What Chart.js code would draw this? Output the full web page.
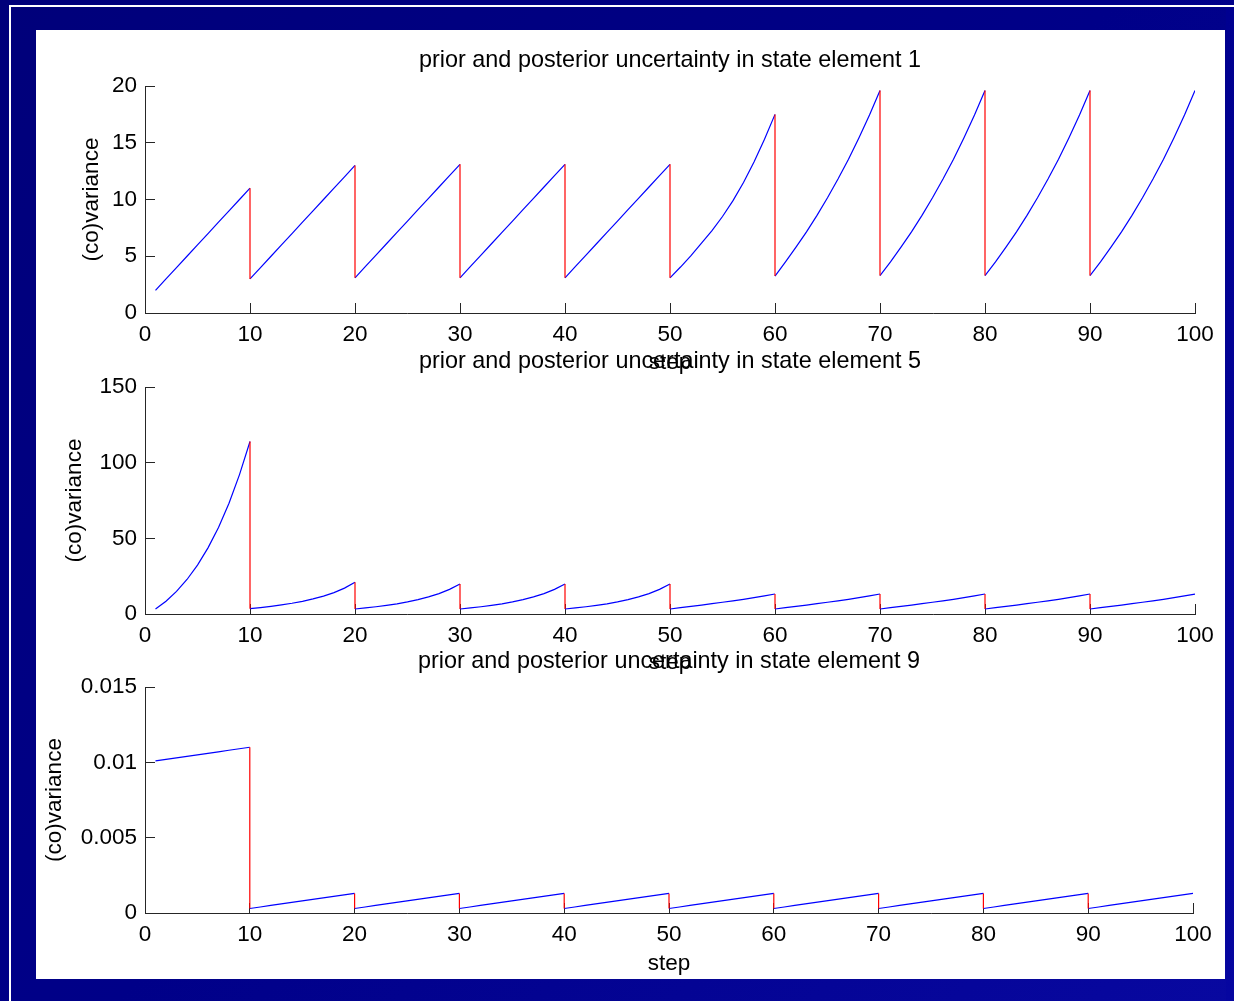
<!DOCTYPE html>
<html>
<head>
<meta charset="utf-8">
<title>prior and posterior uncertainty</title>
<script src="https://cdn.jsdelivr.net/npm/chart.js@4.4.1/dist/chart.umd.min.js"></script>
<style>
  html, body { margin: 0; padding: 0; overflow: hidden; }
  html { background: #00007a; }
  body { width: 1234px; height: 1001px; position: relative; }
  #bg { position: absolute; left: 0; top: 0; width: 1234px; height: 1001px;
        background: linear-gradient(135deg, #00007a 0%, #000088 50%, #0808a0 100%); }
  #lineTop { position: absolute; left: 9px; top: 5px; width: 1225px; height: 2px; background: #fff; }
  #lineLeft { position: absolute; left: 9px; top: 5px; width: 2px; height: 996px; background: #fff; }
  #panel { position: absolute; left: 36px; top: 30px; width: 1189px; height: 949px; background: #fff; }
  #edge { position: absolute; left: 1226px; top: 8px; width: 8px; height: 993px; z-index: 5;
          background: linear-gradient(180deg, #000090, #0606a0); }
  canvas { position: absolute; left: 0; top: 0; width: 1234px; height: 1001px; }
</style>
</head>
<body>
<div id="bg"></div>
<div id="lineTop"></div>
<div id="lineLeft"></div>
<div id="panel"></div>
<canvas id="c1" width="1234" height="1001"></canvas>
<canvas id="c2" width="1234" height="1001"></canvas>
<canvas id="c3" width="1234" height="1001"></canvas>
<div id="edge"></div>
<script>
// filter steps 1..100, measurement update every 10 steps
const steps = Array.from({ length: 100 }, (_, i) => i + 1);
const updateSteps = [10, 20, 30, 40, 50, 60, 70, 80, 90];

// state element 1: prior covariance at each step, posterior after each update
const prior1 = [
  2, 3, 4, 5, 6, 7, 8, 9, 10, 11,
  4, 5, 6, 7, 8, 9, 10, 11, 12, 13,
  4.1, 5.1, 6.1, 7.1, 8.1, 9.1, 10.1, 11.1, 12.1, 13.1,
  4.1, 5.1, 6.1, 7.1, 8.1, 9.1, 10.1, 11.1, 12.1, 13.1,
  4.1, 5.1, 6.1, 7.1, 8.1, 9.1, 10.1, 11.1, 12.1, 13.1,
  4.05, 5.05, 6.15, 7.25, 8.5, 9.9, 11.5, 13.3, 15.3, 17.5,
  4.5, 5.8, 7.15, 8.6, 10.15, 11.8, 13.55, 15.45, 17.45, 19.6,
  4.5, 5.8, 7.15, 8.6, 10.15, 11.8, 13.55, 15.45, 17.45, 19.6,
  4.5, 5.8, 7.15, 8.6, 10.15, 11.8, 13.55, 15.45, 17.45, 19.6,
  4.5, 5.8, 7.15, 8.6, 10.15, 11.8, 13.55, 15.45, 17.45, 19.6
];
const post1 = [3.0, 3.1, 3.1, 3.1, 3.1, 3.25, 3.3, 3.3, 3.3];

// state element 5
const prior5 = [
  3.3, 8.4, 14.9, 22.8, 32.3, 43.7, 57.2, 73.2, 92.1, 114,
  4.2, 5.05, 6.0, 7.1, 8.4, 9.95, 11.85, 14.15, 17.1, 21.0,
  4.0, 4.8, 5.7, 6.75, 8.0, 9.5, 11.3, 13.5, 16.3, 19.8,
  4.0, 4.8, 5.7, 6.75, 8.0, 9.5, 11.3, 13.5, 16.3, 19.8,
  4.0, 4.8, 5.7, 6.75, 8.0, 9.5, 11.3, 13.5, 16.3, 19.8,
  4.15, 5.0, 5.9, 6.8, 7.75, 8.7, 9.7, 10.8, 11.95, 13.2,
  4.15, 5.0, 5.9, 6.8, 7.75, 8.7, 9.7, 10.8, 11.95, 13.2,
  4.15, 5.0, 5.9, 6.8, 7.75, 8.7, 9.7, 10.8, 11.95, 13.2,
  4.15, 5.0, 5.9, 6.8, 7.75, 8.7, 9.7, 10.8, 11.95, 13.2,
  4.15, 5.0, 5.9, 6.8, 7.75, 8.7, 9.7, 10.8, 11.95, 13.2
];
const post5 = [3.5, 3.3, 3.3, 3.3, 3.3, 3.3, 3.3, 3.3, 3.3];

// state element 9
const prior9 = [
  0.0101, 0.0102, 0.0103, 0.0104, 0.0105, 0.0106, 0.0107, 0.0108, 0.0109, 0.0110,
  0.0004, 0.0005, 0.0006, 0.0007, 0.0008, 0.0009, 0.0010, 0.0011, 0.0012, 0.0013,
  0.0004, 0.0005, 0.0006, 0.0007, 0.0008, 0.0009, 0.0010, 0.0011, 0.0012, 0.0013,
  0.0004, 0.0005, 0.0006, 0.0007, 0.0008, 0.0009, 0.0010, 0.0011, 0.0012, 0.0013,
  0.0004, 0.0005, 0.0006, 0.0007, 0.0008, 0.0009, 0.0010, 0.0011, 0.0012, 0.0013,
  0.0004, 0.0005, 0.0006, 0.0007, 0.0008, 0.0009, 0.0010, 0.0011, 0.0012, 0.0013,
  0.0004, 0.0005, 0.0006, 0.0007, 0.0008, 0.0009, 0.0010, 0.0011, 0.0012, 0.0013,
  0.0004, 0.0005, 0.0006, 0.0007, 0.0008, 0.0009, 0.0010, 0.0011, 0.0012, 0.0013,
  0.0004, 0.0005, 0.0006, 0.0007, 0.0008, 0.0009, 0.0010, 0.0011, 0.0012, 0.0013,
  0.0004, 0.0005, 0.0006, 0.0007, 0.0008, 0.0009, 0.0010, 0.0011, 0.0012, 0.0013
];
const post9 = [0.0003, 0.0003, 0.0003, 0.0003, 0.0003, 0.0003, 0.0003, 0.0003, 0.0003];

const xTicks = [0, 10, 20, 30, 40, 50, 60, 70, 80, 90, 100];
const yTicks1 = ['0', '5', '10', '15', '20'];
const yTicks5 = ['0', '50', '100', '150'];
const yTicks9 = ['0', '0.005', '0.01', '0.015'];

Chart.defaults.font.family = '"Liberation Sans", Arial, sans-serif';
Chart.defaults.color = '#000';

const font = { size: 22.5 };
const axisColor = '#262626';

// blue: the covariance as it evolves, broken at each update
function blueLine(prior, post) {
  const pts = [];
  steps.forEach((s, i) => {
    pts.push({ x: s, y: prior[i] });
    const k = updateSteps.indexOf(s);
    if (k >= 0) {
      pts.push({ x: s, y: null });
      pts.push({ x: s, y: post[k] });
    }
  });
  return pts;
}

// red: the drop from prior to posterior at each update
function redLines(prior, post) {
  const pts = [];
  updateSteps.forEach((s, k) => {
    pts.push({ x: s, y: prior[s - 1] }, { x: s, y: post[k] }, { x: s, y: null });
  });
  return pts;
}

function makeChart(id, opts) {
  const ctx = document.getElementById(id).getContext('2d');
  return new Chart(ctx, {
    type: 'line',
    data: {
      datasets: [
        { data: redLines(opts.prior, opts.post), borderColor: '#ff0000', borderWidth: 1.2 },
        { data: blueLine(opts.prior, opts.post), borderColor: '#0000ff', borderWidth: 1.2 }
      ]
    },
    options: {
      responsive: false,
      animation: false,
      devicePixelRatio: 1,
      layout: { padding: { left: 40, right: opts.right, top: opts.top, bottom: opts.bottom } },
      elements: { point: { radius: 0 }, line: { tension: 0 } },
      plugins: {
        legend: { display: false },
        tooltip: { enabled: false },
        title: {
          display: true,
          text: 'prior and posterior uncertainty in state element ' + opts.element,
          fullSize: false,
          color: '#000',
          font: { size: 23.4, weight: 'normal', lineHeight: '27px' },
          padding: { top: 0, bottom: 12 }
        }
      },
      scales: {
        x: {
          type: 'linear',
          min: 0,
          max: 100,
          afterFit: (s) => { s.height = 70; },
          afterBuildTicks: (s) => { s.ticks = xTicks.map((v) => ({ value: v })); },
          ticks: { font, color: '#000', padding: 18.5, maxRotation: 0, autoSkip: false },
          grid: { drawOnChartArea: false, drawTicks: true, tickLength: -10, color: axisColor },
          border: { color: axisColor, width: 1 },
          title: { display: true, text: 'step', color: '#000', font, padding: { top: 0, bottom: opts.xPad } }
        },
        y: {
          type: 'linear',
          min: 0,
          max: opts.yMax,
          afterFit: (s) => { s.width = 105; },
          afterBuildTicks: (s) => {
            s.ticks = opts.yTicks.map((t) => ({ value: parseFloat(t) }));
          },
          ticks: {
            font, color: '#000', padding: 18,
            callback: (v, i) => opts.yTicks[i]
          },
          grid: { drawOnChartArea: false, drawTicks: true, tickLength: -10, color: axisColor },
          border: { color: axisColor, width: 1 },
          title: { display: true, text: '(co)variance', color: '#000', font, padding: { top: opts.yPad, bottom: 0 } }
        }
      }
    }
  });
}

makeChart('c1', { element: 1, prior: prior1, post: post1, yMax: 20, yTicks: yTicks1,
  top: 47, bottom: 618, right: 39, xPad: 6.5, yPad: 38.5 });
makeChart('c2', { element: 5, prior: prior5, post: post5, yMax: 150, yTicks: yTicks5,
  top: 348, bottom: 317, right: 39, xPad: 7.5, yPad: 21.5 });
makeChart('c3', { element: 9, prior: prior9, post: post9, yMax: 0.015, yTicks: yTicks9,
  top: 648, bottom: 18, right: 41, xPad: 5.5, yPad: 1.5 });
</script>
</body>
</html>
